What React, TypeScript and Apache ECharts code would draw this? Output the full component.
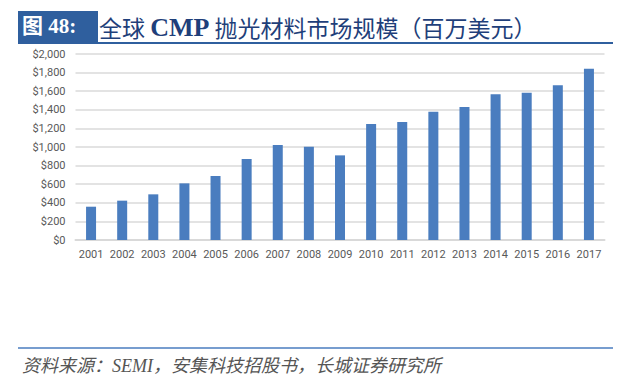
import React, { useEffect, useRef } from "react";
import * as echarts from "echarts";

const years = ["2001","2002","2003","2004","2005","2006","2007","2008","2009","2010","2011","2012","2013","2014","2015","2016","2017"];
const marketSize = [358, 423, 491, 609, 688, 871, 1021, 1004, 910, 1247, 1269, 1380, 1430, 1566, 1584, 1663, 1842];
const titleLabel = "图 48:";
const titleLead = "全球 ";
const titleLatin = "CMP";
const titleTail = " 抛光材料市场规模（百万美元）";
const sourceText = "资料来源：SEMI，安集科技招股书，长城证券研究所";

export default function App() {
  const ref = useRef<HTMLDivElement>(null);
  useEffect(() => {
    document.body.style.margin = "0";
    const chart = echarts.init(ref.current!, null, { renderer: "svg" });
    chart.setOption({
      animation: false,
      backgroundColor: "#ffffff",
      grid: { left: 75.5, right: 35.5, top: 54, bottom: 143, containLabel: false },
      xAxis: {
        type: "category",
        data: years,
        axisLine: { show: true, lineStyle: { color: "#d9d9d9", width: 2 } },
        axisTick: { show: false },
        axisLabel: { color: "#595959", fontSize: 11, fontFamily: "Roboto, sans-serif", margin: 9, interval: 0 },
      },
      yAxis: {
        type: "value",
        min: 0,
        max: 2000,
        interval: 200,
        axisLine: { show: false },
        axisTick: { show: false },
        splitLine: { lineStyle: { color: "#e3e3e3", width: 2 } },
        axisLabel: {
          color: "#595959",
          fontSize: 11,
          fontFamily: "Roboto, sans-serif",
          margin: 10,
          formatter: (v: number) => "$" + v.toLocaleString("en-US"),
        },
      },
      series: [
        {
          type: "bar",
          data: marketSize,
          barWidth: 10,
          itemStyle: { color: "#4a7dbf" },
        },
      ],
      graphic: [
        { type: "rect", left: 18, top: 11, shape: { width: 80, height: 32 }, style: { fill: "#2f5f9e" } },
        {
          type: "text", left: 22, top: 15,
          style: { text: titleLabel, fill: "#ffffff", font: "bold 21px 'Liberation Serif', 'Noto Sans CJK SC', serif" },
        },
        {
          type: "text", left: 99, top: 14,
          style: {
            text: "{a|" + titleLead + "}{b|" + titleLatin + "}{a|" + titleTail + "}",
            rich: {
              a: { fill: "#1f3f7a", font: "normal 23px 'Noto Sans CJK SC', serif" },
              b: { fill: "#1f3f7a", font: "bold 26px 'Liberation Serif', serif" },
            },
          },
        },
        { type: "line", shape: { x1: 18, y1: 43, x2: 613, y2: 43 }, style: { stroke: "#2f5f9e", lineWidth: 2 } },
        { type: "line", shape: { x1: 18, y1: 348, x2: 613, y2: 348 }, style: { stroke: "#4a7dbf", lineWidth: 1.5 } },
        {
          type: "text", left: 22, top: 357,
          style: { text: sourceText, fill: "#555555", font: "italic 18px 'Liberation Serif', 'Noto Sans CJK SC', serif" },
        },
      ],
    });
    return () => chart.dispose();
  }, []);
  return <div ref={ref} style={{ position: "absolute", left: 0, top: 0, width: 640, height: 383 }} />;
}
